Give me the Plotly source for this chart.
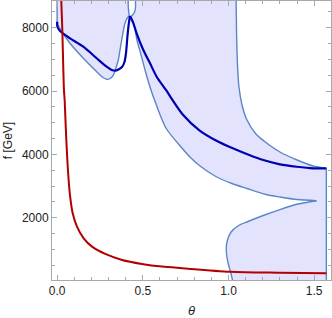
import plotly.graph_objects as go

# ---------------- data ----------------
x_tick_vals = [0.0, 0.5, 1.0, 1.5]
x_tick_text = ["0.0", "0.5", "1.0", "1.5"]
y_tick_vals = [2000, 4000, 6000, 8000]
y_tick_text = ["2000", "4000", "6000", "8000"]

F_TOP = 9000      # region continues above the frame
F_BOTTOM = 0      # region continues below the frame
THETA_MAX = 1.5708

# red curve
red_theta = [0.024, 0.030, 0.040, 0.044, 0.052, 0.062, 0.074, 0.091, 0.116, 0.155,
             0.204, 0.281, 0.379, 0.495, 0.612, 0.729, 1.009, 1.300, 1.571]
red_f = [8900, 8000, 6030, 5716, 4663, 3610, 2770, 2138, 1717, 1350,
         1087, 857, 667, 541, 457, 406, 295, 263, 244]

# dark blue curve: rising branch (to the peak) and falling branch (from the peak)
blue1_theta = [0.0, 0.002, 0.017, 0.075, 0.153, 0.231, 0.289, 0.319, 0.338, 0.358,
               0.379, 0.393, 0.402, 0.410, 0.418, 0.425]
blue1_f = [8190, 8022, 7896, 7665, 7400, 7034, 6768, 6664, 6642, 6680,
           6759, 6917, 7201, 7706, 8117, 8370]
blue2_theta = [0.425, 0.445, 0.464, 0.503, 0.542, 0.581, 0.635, 0.733, 0.830, 0.927,
               1.025, 1.121, 1.203, 1.300, 1.398, 1.495, 1.571]
blue2_f = [8370, 8139, 7823, 7296, 6876, 6453, 6033, 5260, 4760, 4440,
           4191, 3980, 3822, 3686, 3610, 3560, 3560]

# left lobe: left edge, lower edge (to the peak), left side of the narrow gap
lobe_edge_theta = [0.0, 0.0]
lobe_edge_f = [F_TOP, 8190]
lobe_low_theta = [0.0, 0.008, 0.027, 0.075, 0.153, 0.231, 0.268, 0.289, 0.309,
                  0.328, 0.347, 0.357, 0.367, 0.377, 0.396, 0.411, 0.421]
lobe_low_f = [8190, 8054, 7874, 7507, 7034, 6610, 6427, 6370, 6396,
              6506, 6790, 6980, 7296, 7612, 8139, 8322, 8370]
gapl_theta = [0.421, 0.418, 0.415, 0.415]
gapl_f = [8370, 8496, 8685, F_TOP]

# right side of the gap down to the junction
gap_theta = [0.457, 0.457, 0.452, 0.440, 0.431]
gap_f = [F_TOP, 8622, 8496, 8401, 8350]

# lower boundary of the band, junction -> tip
lower_theta = [0.431, 0.449, 0.466, 0.490, 0.513, 0.542, 0.577, 0.635, 0.723, 0.781,
               0.834, 0.921, 1.020, 1.108, 1.219, 1.300, 1.400, 1.513]
lower_f = [8350, 8085, 7612, 7136, 6664, 6127, 5590, 4833, 4233, 3885,
           3633, 3317, 3080, 2922, 2732, 2654, 2575, 2537]

# lower pocket boundary, tip -> bottom
pocket_theta = [1.513, 1.405, 1.300, 1.210, 1.114, 1.055, 1.015, 0.994, 0.987, 0.990,
                0.999, 1.012, 1.023, 1.024]
pocket_f = [2537, 2432, 2258, 2085, 1880, 1738, 1548, 1296, 1043, 790,
            538, 285, 32, F_BOTTOM]

# right edge (bottom -> corner)
edge_theta = [THETA_MAX, THETA_MAX]
edge_f = [F_BOTTOM, 3560]

# upper boundary of the band (corner -> top)
upper_theta = [THETA_MAX, 1.493, 1.400, 1.300, 1.207, 1.160, 1.105, 1.079,
               1.061, 1.053, 1.047, 1.044]
upper_f = [3560, 3633, 3822, 4075, 4422, 4643, 5117, 5559,
           6127, 6759, 7833, F_TOP]

# ---------------- styles ----------------
FILL = "rgba(40,40,240,0.13)"
EDGE = "#5A86C5"
DARK_BLUE = "rgb(0,0,178)"
RED = "rgb(178,0,0)"
AXIS = "#a8a8a8"
FONT = "Liberation Sans"

fig = go.Figure()

# filled regions
lobe_fill_theta = lobe_edge_theta + lobe_low_theta[1:] + gapl_theta[1:]
lobe_fill_f = lobe_edge_f + lobe_low_f[1:] + gapl_f[1:]
fig.add_trace(go.Scatter(x=lobe_fill_theta, y=lobe_fill_f, fill="toself", fillcolor=FILL,
                         mode="lines", line=dict(width=0), hoverinfo="skip"))
band_theta = gap_theta + lower_theta[1:] + pocket_theta[1:] + edge_theta + upper_theta[1:]
band_f = gap_f + lower_f[1:] + pocket_f[1:] + edge_f + upper_f[1:]
fig.add_trace(go.Scatter(x=band_theta, y=band_f, fill="toself", fillcolor=FILL,
                         mode="lines", line=dict(width=0), hoverinfo="skip"))


def add_line(xs, ys, color, width, smooth):
    line = dict(color=color, width=width)
    if smooth:
        line.update(shape="spline", smoothing=0.8)
    fig.add_trace(go.Scatter(x=xs, y=ys, mode="lines", line=line, hoverinfo="skip"))


# boundaries
add_line(lobe_edge_theta, lobe_edge_f, EDGE, 1.4, False)
add_line(lobe_low_theta, lobe_low_f, EDGE, 1.4, True)
add_line(gapl_theta, gapl_f, EDGE, 1.4, True)
add_line(gap_theta, gap_f, EDGE, 1.4, True)
add_line(lower_theta, lower_f, EDGE, 1.4, True)
add_line(pocket_theta, pocket_f, EDGE, 1.4, True)
add_line(edge_theta, edge_f, EDGE, 1.4, False)
add_line(upper_theta, upper_f, EDGE, 1.4, True)

# curves
add_line(blue1_theta, blue1_f, DARK_BLUE, 2.2, True)
add_line(blue2_theta, blue2_f, DARK_BLUE, 2.2, True)
add_line(red_theta, red_f, RED, 2.0, True)

axis_common = dict(showgrid=False, zeroline=False, showline=True, linecolor=AXIS,
                   linewidth=1, mirror="allticks", ticks="inside", ticklen=5,
                   tickcolor=AXIS, tickwidth=1,
                   tickfont=dict(family=FONT, size=12, color="#222222"))

fig.update_layout(
    width=332, height=318,
    margin=dict(l=52, r=1, t=1, b=38),
    plot_bgcolor="white", paper_bgcolor="white",
    showlegend=False,
    xaxis=dict(range=[-0.0298, 1.598], tickvals=x_tick_vals, ticktext=x_tick_text,
               minor=dict(dtick=0.1, tick0=0, ticks="inside", ticklen=3, tickcolor=AXIS),
               title=dict(text="<i>θ</i>", font=dict(family=FONT, size=13, color="#222222"),
                          standoff=9),
               **axis_common),
    yaxis=dict(range=[33, 8843], tickvals=y_tick_vals, ticktext=y_tick_text,
               minor=dict(dtick=500, tick0=0, ticks="inside", ticklen=3, tickcolor=AXIS),
               title=dict(text="f [GeV]", font=dict(family=FONT, size=12, color="#222222"),
                          standoff=6),
               **axis_common),
)

fig.write_html("out.html", config={"displayModeBar": False},
               post_script="document.body.style.margin='0';document.body.style.padding='0';")
